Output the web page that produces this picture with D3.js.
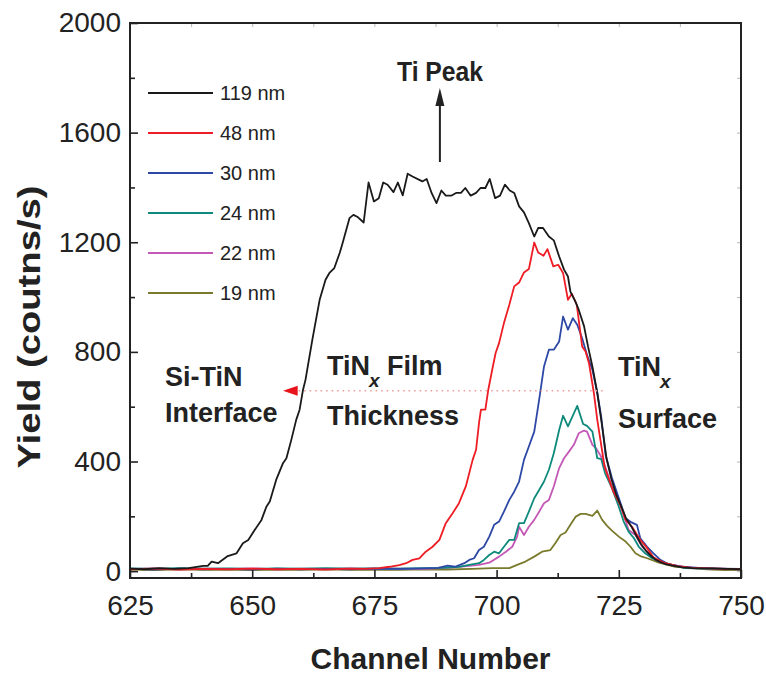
<!DOCTYPE html>
<html>
<head>
<meta charset="utf-8">
<script src="https://cdn.jsdelivr.net/npm/d3@7"></script>
<style>
  html, body { margin: 0; padding: 0; background: #fff; }
  svg { display: block; font-family: "Liberation Sans", Arial, sans-serif; }
</style>
</head>
<body>
<div id="chart"></div>
<script>
// RBS spectra: channel vs yield, one series per film thickness
const labels = ["119 nm", "48 nm", "30 nm", "24 nm", "22 nm", "19 nm"];
const colors = ["#1a1a1a", "#ee1c24", "#2e48a6", "#0e8a7c", "#c458b6", "#7a7a2c"];

const s119 = [
  [625, 9], [628, 7], [631, 11], [634, 8], [637, 11], [640, 19], [640.9, 19], [641.7, 35], [643, 29],
  [645, 55], [646.8, 65], [648.1, 102], [649.2, 114], [650.5, 150], [651.9, 187], [652.9, 235],
  [653.6, 254], [654.9, 333], [656.3, 394], [657, 412], [658, 479], [659, 552], [659.7, 589],
  [660.4, 662], [660.9, 698], [662.3, 844], [663.8, 990], [665, 1063], [665.8, 1088], [666.8, 1106],
  [667.9, 1161], [668.5, 1197], [669.9, 1288], [670.7, 1300], [671.6, 1292], [672.8, 1272],
  [673.8, 1418], [674.9, 1349], [675.9, 1361], [676.8, 1418], [677.7, 1410], [678.9, 1383],
  [679.8, 1418], [680.8, 1371], [681.8, 1450], [682.8, 1440], [684.8, 1422], [685.7, 1431],
  [686.7, 1380], [687.7, 1343], [688.7, 1389], [689.6, 1370], [690.7, 1370], [691.7, 1380],
  [692.7, 1380], [693.6, 1398], [694.7, 1370], [695.8, 1380], [696.7, 1398], [697.7, 1398],
  [698.6, 1431], [699.7, 1361], [700.7, 1370], [701.7, 1410], [702.7, 1389], [703.6, 1380],
  [704.6, 1331], [705.6, 1309], [706.6, 1270], [707.7, 1221], [708.5, 1252], [709.5, 1252],
  [710.7, 1221], [711.7, 1207], [712.8, 1148], [713.8, 1100], [714.6, 1075], [715.1, 1020],
  [716.1, 984], [716.8, 954], [717.9, 893], [718.7, 820], [719.6, 747], [720.6, 650], [721.5, 540],
  [722.5, 410], [723.5, 335], [724.5, 278], [725.5, 236], [726.5, 192], [727.5, 165], [728.5, 132],
  [729.5, 100], [730.5, 76], [731.5, 57], [732.5, 42], [733.5, 33], [734.5, 26], [736, 20],
  [738, 14], [740, 11], [744, 10], [747, 8], [750, 7]
];
const s48 = [
  [625, 7], [630, 9], [635, 6], [640, 8], [645, 7], [650, 9], [655, 7], [660, 8], [665, 6], [670, 9],
  [673, 8], [676, 11], [678.1, 16], [680.1, 22], [681.5, 29], [682.8, 41], [684.2, 47], [685.5, 71],
  [686.9, 89], [688.3, 114], [689.6, 175], [691, 211], [692.3, 248], [693.7, 309], [695.1, 406],
  [695.8, 443], [696.4, 540], [696.8, 589], [697.7, 589], [698.3, 662], [699.1, 735], [699.8, 796],
  [700.5, 832], [701.5, 905], [702.6, 972], [703.6, 1039], [704.6, 1053], [705.6, 1090],
  [706.6, 1102], [707.7, 1199], [708.5, 1163], [709.6, 1151], [710.4, 1175], [711.6, 1112],
  [712.6, 1118], [713.6, 1088], [714.6, 990], [715.4, 1012], [716.4, 972], [717.5, 820],
  [718.2, 801], [718.9, 759], [719.9, 650], [720.6, 552], [722.1, 380], [723.9, 289], [725.4, 238],
  [726.3, 190], [727.7, 162], [729.4, 114], [730.8, 84], [732.1, 50], [734.5, 29], [737, 18],
  [740, 12], [745, 9], [750, 7]
];
const s30 = [
  [625, 8], [630, 6], [635, 9], [640, 7], [645, 8], [650, 6], [655, 9], [660, 7], [665, 8], [670, 7],
  [675, 9], [680, 8], [685, 10], [688, 12], [690, 20], [691.5, 16], [693.4, 29], [694.4, 41],
  [695.4, 47], [696.4, 77], [697.4, 89], [698.5, 126], [699.5, 169], [700.5, 181], [701.5, 217],
  [702.6, 260], [703.6, 290], [704.6, 327], [705.6, 406], [706.6, 455], [707.7, 509], [708.7, 625],
  [709.7, 747], [710.7, 808], [711.7, 808], [712.8, 838], [713.6, 929], [714.6, 881], [715.6, 923],
  [716.5, 899], [717.5, 850], [718.5, 789], [719.6, 735], [720.6, 650], [721.4, 564], [722.3, 424],
  [723.6, 340], [725, 267], [726.4, 193], [727.4, 180], [728.7, 169], [729.4, 120], [730.8, 89],
  [732.1, 65], [733.5, 41], [735.1, 26], [738, 16], [742, 11], [746, 9], [750, 8]
];
const s24 = [
  [625, 10], [630, 8], [635, 11], [640, 9], [645, 10], [650, 8], [655, 10], [660, 9], [665, 11],
  [670, 9], [675, 10], [680, 9], [685, 11], [689, 12], [692.3, 16], [694.4, 23], [696.4, 29],
  [697.4, 41], [698.5, 59], [699.5, 71], [700.5, 65], [701.5, 89], [702.6, 114], [703.6, 114],
  [704.6, 175], [705.6, 175], [706.6, 217], [707.7, 266], [708.7, 296], [709.7, 327], [710.7, 370],
  [711.7, 430], [712.8, 515], [713.6, 567], [714.6, 528], [715.5, 564], [716.5, 603], [717.7, 537],
  [718.5, 530], [719.6, 509], [720.6, 412], [721.4, 409], [722.2, 357], [723.6, 303], [725, 235],
  [726, 181], [727, 144], [728.1, 120], [729.1, 89], [730.4, 65], [731.8, 47], [734.5, 29],
  [738.6, 11], [745, 8], [750, 7]
];
const s22 = [
  [625, 8], [630, 10], [635, 7], [640, 9], [645, 8], [650, 10], [655, 7], [660, 9], [665, 8],
  [670, 10], [675, 8], [680, 9], [685, 8], [689, 11], [692.3, 16], [696.4, 23], [698.5, 31],
  [700.5, 53], [701.9, 71], [703.2, 89], [704.2, 126], [704.6, 162], [705.6, 132], [706.6, 162],
  [707.7, 187], [708.7, 217], [709.7, 248], [710.7, 260], [711.7, 309], [712.8, 376], [713.8, 412],
  [714.8, 436], [715.8, 461], [716.8, 503], [717.9, 513], [718.5, 509], [719.6, 461], [720.3, 449],
  [721.2, 424], [722.2, 382], [723.6, 309], [724.9, 260], [726, 206], [727, 150], [728.4, 132],
  [729.8, 89], [731.1, 65], [733.2, 35], [735.9, 23], [739.9, 11], [745, 9], [750, 7]
];
const s19 = [
  [625, 6], [630, 4], [635, 7], [640, 5], [645, 6], [650, 4], [655, 6], [660, 5], [665, 7], [670, 5],
  [675, 6], [680, 5], [685, 7], [690, 6], [695, 8], [699.1, 11], [702.6, 11], [704.2, 23],
  [705.9, 35], [707.7, 53], [709.3, 71], [711, 77], [712, 102], [713.1, 132], [714.1, 141],
  [715.1, 169], [716.2, 199], [717.2, 209], [718.2, 209], [719.6, 202], [720.6, 221], [721.6, 187],
  [722.6, 165], [723.6, 148], [725, 126], [726.4, 108], [727.4, 89], [728.4, 65], [729.4, 55],
  [730.8, 47], [733.2, 31], [736.6, 16], [739.9, 11], [743, 7], [746.7, 4], [750, 5]
];
const series = [s119, s48, s30, s24, s22, s19];

const xMajor = [625, 650, 675, 700, 725, 750];
const xMinor = [637.5, 662.5, 687.5, 712.5, 737.5];
const yMajor = [0, 400, 800, 1200, 1600, 2000];
const yMinor = [200, 600, 1000, 1400, 1800];

const W = 766, H = 677;
const plotL = 130, plotR = 741, plotT = 23, plotB = 578;

const svg = d3.select("#chart").append("svg")
  .attr("width", W).attr("height", H);

const x = d3.scaleLinear().domain([625, 750]).range([plotL, plotR]);
const y = d3.scaleLinear().domain([-25, 2000]).range([plotB, plotT]);

svg.append("defs").append("clipPath").attr("id", "plot")
  .append("rect").attr("x", plotL).attr("y", plotT)
  .attr("width", plotR - plotL).attr("height", plotB - plotT);

// curves (drawn from the last series to the first so the black sits on top)
const line = d3.line().x((d) => x(d[0])).y((d) => y(d[1]));
const curves = svg.append("g").attr("clip-path", "url(#plot)");
for (let i = series.length - 1; i >= 0; i--) {
  curves.append("path")
    .datum(series[i])
    .attr("d", line)
    .attr("fill", "none")
    .attr("stroke", colors[i])
    .attr("stroke-width", 1.8)
    .attr("stroke-linejoin", "round");
}

// axes
const tickFont = (g) => g.selectAll("text")
  .attr("font-size", 28).attr("fill", "#222")
  .attr("font-family", "'Liberation Sans', Arial, sans-serif");

svg.append("g").attr("transform", `translate(0,${plotB})`)
  .call(d3.axisBottom(x).tickValues(xMajor).tickSize(-8).tickPadding(17).tickFormat(d3.format("d")))
  .call(tickFont);
svg.append("g").attr("transform", `translate(0,${plotB})`)
  .call(d3.axisBottom(x).tickValues(xMinor).tickSize(-5).tickFormat(""));

svg.append("g").attr("transform", `translate(${plotL},0)`)
  .call(d3.axisLeft(y).tickValues(yMajor).tickSize(-8).tickPadding(9).tickFormat(d3.format("d")))
  .call(tickFont);
svg.append("g").attr("transform", `translate(${plotL},0)`)
  .call(d3.axisLeft(y).tickValues(yMinor).tickSize(-5).tickFormat(""));

svg.selectAll(".tick line").attr("stroke", "#222").attr("stroke-width", 1.6);

// faint ticks on the top and right edges
svg.append("g").attr("transform", `translate(0,${plotT})`)
  .call(d3.axisTop(x).tickValues(xMajor.concat(xMinor)).tickSize(-4).tickFormat(""))
  .selectAll("line").attr("stroke", "#999").attr("stroke-width", 0.7);
svg.append("g").attr("transform", `translate(${plotR},0)`)
  .call(d3.axisRight(y).tickValues(yMajor.concat(yMinor)).tickSize(-4).tickFormat(""))
  .selectAll("line").attr("stroke", "#999").attr("stroke-width", 0.7);

svg.selectAll(".domain").remove();

svg.append("rect")
  .attr("x", plotL).attr("y", plotT)
  .attr("width", plotR - plotL).attr("height", plotB - plotT)
  .attr("fill", "none").attr("stroke", "#222").attr("stroke-width", 2);

// axis titles
svg.append("text")
  .attr("x", (plotL + plotR) / 2 - 5).attr("y", 669)
  .attr("text-anchor", "middle")
  .attr("font-size", 30).attr("font-weight", "bold").attr("fill", "#222")
  .text("Channel Number");

svg.append("text")
  .attr("transform", "translate(40,327) rotate(-90)")
  .attr("text-anchor", "middle")
  .attr("font-size", 31).attr("font-weight", "bold").attr("fill", "#222")
  .attr("textLength", 283).attr("lengthAdjust", "spacingAndGlyphs")
  .text("Yield (coutns/s)");

// legend
const legend = svg.append("g");
labels.forEach((name, i) => {
  const ly = 93 + i * 40;
  legend.append("line")
    .attr("x1", 148).attr("x2", 213).attr("y1", ly).attr("y2", ly)
    .attr("stroke", colors[i]).attr("stroke-width", 2);
  legend.append("text")
    .attr("x", 220).attr("y", ly + 7)
    .attr("font-size", 20).attr("fill", "#222")
    .text(name);
});

// annotations
const note = (tx, ty, str) => svg.append("text")
  .attr("x", tx).attr("y", ty)
  .attr("font-size", 27).attr("font-weight", "bold").attr("fill", "#222")
  .text(str);

note(397, 81, "Ti Peak").attr("textLength", 86).attr("lengthAdjust", "spacingAndGlyphs");
const ax = x(688.4);
svg.append("line")
  .attr("x1", ax).attr("x2", ax).attr("y1", 162).attr("y2", 100)
  .attr("stroke", "#222").attr("stroke-width", 2);
svg.append("path")
  .attr("d", `M${ax},88 L${ax - 4.5},106 L${ax + 4.5},106 Z`)
  .attr("fill", "#222");

note(165, 386, "Si-TiN");
note(165, 422, "Interface");

const film = note(327, 375, "TiN");
film.append("tspan").attr("dx", -1).attr("dy", 12).attr("font-size", 19).attr("font-style", "italic").text("x");
film.append("tspan").attr("dy", -12).text(" Film");
note(327, 425, "Thickness");

const surf = note(618, 376, "TiN");
surf.append("tspan").attr("dx", -1).attr("dy", 12).attr("font-size", 19).attr("font-style", "italic").text("x");
note(618, 428, "Surface");

// thickness marker: red arrow head + dotted guide
const my = y(658);
svg.append("line")
  .attr("x1", x(659.5)).attr("x2", x(722.5)).attr("y1", my).attr("y2", my)
  .attr("stroke", "#f29a9a").attr("stroke-width", 1.4).attr("stroke-dasharray", "1.5,4");
svg.append("path")
  .attr("d", `M${x(656.3)},${my} L${x(659.3)},${my - 5} L${x(659.3)},${my + 5} Z`)
  .attr("fill", "#e8141c");
</script>
</body>
</html>
